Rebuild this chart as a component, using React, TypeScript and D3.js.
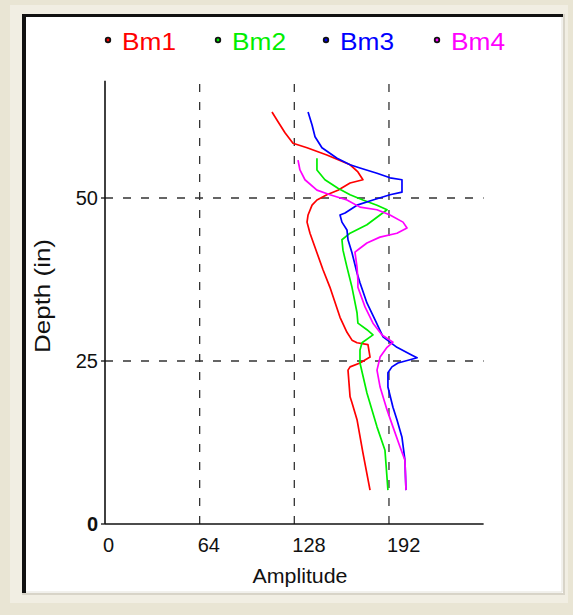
import React from "react";
import * as d3 from "d3";

type Pt = [number, number]; // [amplitude, depth]

const seriesNames = ["Bm1", "Bm2", "Bm3", "Bm4"];
const seriesColors = ["#ff0000", "#00ee00", "#0000ff", "#ff00ff"];

const bm1: Pt[] = [
  [112.9, 63.2], [117, 61.7], [121.7, 60], [127.1, 58.4], [136.6, 57.7], [150, 56.6],
  [165.7, 55.1], [171, 54], [174.4, 52.8], [165.7, 52.3], [157.5, 51.2], [150, 50.5],
  [143.3, 49.7], [140, 48.9], [137.3, 47.4], [136.6, 46.3], [138.6, 44.6], [143.3, 41.6],
  [147.4, 39], [152.1, 36.3], [158.9, 31.7], [163.6, 29.4], [167, 28.2], [170.4, 27.8],
  [177.8, 27.5], [179.2, 25.6], [172.4, 24.7], [165.7, 24.1], [164.3, 23.6], [165.7, 19.5],
  [167, 18.6], [170.4, 16], [174.4, 10.9], [179.2, 5.2],
];
const bm2: Pt[] = [
  [143.3, 56.1], [143.3, 54.3], [148.7, 52.8], [157.5, 51.5], [165.7, 50.5], [174.4, 49.7],
  [183.9, 48.9], [190.7, 48.2], [177.1, 45.9], [165.7, 44.6], [160.2, 43.6], [160.9, 42],
  [163.6, 39.4], [167, 36.3], [170.4, 32.4], [171, 30.8], [177.1, 29.8], [181.2, 29],
  [173.8, 27.8], [172.4, 26.7], [172.4, 24.7], [177.1, 20.1], [183.9, 14.9], [189.3, 11.3],
  [191.3, 5.2],
];
const bm3: Pt[] = [
  [137.3, 63.2], [140, 61.2], [142, 59.4], [146.7, 57.7], [156.9, 56.1], [165.7, 55.1],
  [172.4, 54.6], [183.9, 53.8], [192.7, 53.1], [200.8, 52.8], [200.8, 50.9], [192.7, 50.5],
  [181.2, 49.7], [170.4, 48.9], [162.3, 47.7], [158.9, 47.4], [160.2, 46.3], [163.6, 45.1],
  [164.3, 43.6], [167, 41.6], [170.4, 38.5], [172.4, 37], [177.1, 33.9], [182.6, 31.3],
  [188, 28.7], [197.4, 27.1], [207.6, 25.9], [211, 25.5], [206.2, 25.2], [198.1, 24.7],
  [194, 24.1], [191.3, 23.2], [191.3, 21], [194.7, 17.9], [197.4, 16], [200.8, 13.3],
  [202.8, 9.8], [203.5, 5.2],
];
const bm4: Pt[] = [
  [130.5, 55.8], [131.8, 54.3], [135.2, 52.8], [143.3, 51.2], [152.1, 50.5], [163.6, 49.7],
  [172.4, 48.6], [183.9, 48.2], [192.7, 47.4], [201.5, 46.3], [204.2, 45.4], [197.4, 44.6],
  [185.9, 44], [177.1, 43.1], [172.4, 42.3], [169, 41.7], [170.4, 39.4], [171, 37.4],
  [171, 36.3], [175.8, 33.3], [181.2, 30.8], [187.3, 29], [194.7, 27.9], [190.7, 27.1],
  [186, 25.6], [183.9, 23.6], [186, 21], [190.7, 17.5], [194.7, 14.9], [199.5, 11.8],
  [202.8, 9.8], [203.5, 5.2],
];
const seriesData = [bm1, bm2, bm3, bm4];

const xTicks = [0, 64, 128, 192];
const xGrid = [64, 128, 192];
const yTicks = [0, 25, 50];
const yGrid = [25, 50];

const FONT = "'Liberation Sans', Arial, sans-serif";

export default function App() {
  const x = d3.scaleLinear().domain([0, 256]).range([105, 105 + 256 * 1.479]);
  const y = d3.scaleLinear().domain([0, 68]).range([524, 524 - 68 * 6.52]);
  const line = d3
    .line<Pt>()
    .x((d) => x(d[0]))
    .y((d) => y(d[1]));

  const legendX = [108, 218, 326, 437];

  return (
    <div style={{ position: "fixed", left: 0, top: 0 }}>
      <svg width={573} height={615} style={{ display: "block" }}>
        <rect x={0} y={0} width={573} height={615} fill="#e9e5d4" />
        <rect x={10} y={5} width={558} height={598} fill="#f1eee3" />
        {/* panel */}
        <rect x={22} y={14} width={543} height={581} fill="#d8d4c8" />
        <rect x={22} y={14} width={541} height={579} fill="#111" />
        <rect x={26} y={17} width={537} height={576} fill="#ffffff" />
        <line x1={26} y1={592} x2={562} y2={592} stroke="#e4e2da" strokeWidth={1} />
        <line x1={562} y1={17} x2={562} y2={592} stroke="#e4e2da" strokeWidth={1} />

        {/* grid */}
        {xGrid.map((v) => (
          <line key={"gx" + v} x1={x(v)} x2={x(v)} y1={y(0)} y2={y(68)} stroke="#333" strokeWidth={1.3} strokeDasharray="8,10" />
        ))}
        {yGrid.map((v) => (
          <line key={"gy" + v} x1={x(0)} x2={x(256)} y1={y(v)} y2={y(v)} stroke="#333" strokeWidth={1.3} strokeDasharray="8,10" />
        ))}

        {/* axes */}
        <line x1={x(0)} x2={x(0)} y1={y(0)} y2={y(68)} stroke="#111" strokeWidth={1.6} />
        <line x1={x(0)} x2={x(256)} y1={y(0)} y2={y(0)} stroke="#111" strokeWidth={1.6} />
        {yTicks.map((v) => (
          <line key={"ty" + v} x1={x(0) - 4} x2={x(0)} y1={y(v)} y2={y(v)} stroke="#111" strokeWidth={1.3} />
        ))}

        {/* series */}
        {seriesData.map((d, i) => (
          <path key={seriesNames[i]} d={line(d) || ""} fill="none" stroke={seriesColors[i]} strokeWidth={1.7} strokeLinejoin="round" />
        ))}

        {/* tick labels */}
        {xTicks.map((v) => (
          <text key={"lx" + v} x={x(v) - 2} y={552} fontFamily={FONT} fontSize={20} fill="#111">
            {v}
          </text>
        ))}
        {yTicks.map((v) => (
          <text key={"ly" + v} x={98} y={y(v) + 7} textAnchor="end" fontFamily={FONT} fontSize={20} fill="#111" fontWeight={v === 0 ? "bold" : "normal"}>
            {v}
          </text>
        ))}

        {/* axis titles */}
        <text x={300} y={583} textAnchor="middle" fontFamily={FONT} fontSize={20} fill="#111" textLength={95} lengthAdjust="spacingAndGlyphs">
          Amplitude
        </text>
        <text transform="translate(50,296) rotate(-90)" textAnchor="middle" fontFamily={FONT} fontSize={22} fill="#111" textLength={114} lengthAdjust="spacingAndGlyphs">
          Depth (in)
        </text>

        {/* legend */}
        {seriesNames.map((n, i) => (
          <g key={"lg" + n}>
            <circle cx={legendX[i]} cy={40} r={3.2} fill="#111" />
            <circle cx={legendX[i]} cy={40} r={1.4} fill={seriesColors[i]} />
            <text x={legendX[i] + 14} y={50} fontFamily={FONT} fontSize={24} fill={seriesColors[i]} textLength={54} lengthAdjust="spacingAndGlyphs">
              {n}
            </text>
          </g>
        ))}
      </svg>
    </div>
  );
}
